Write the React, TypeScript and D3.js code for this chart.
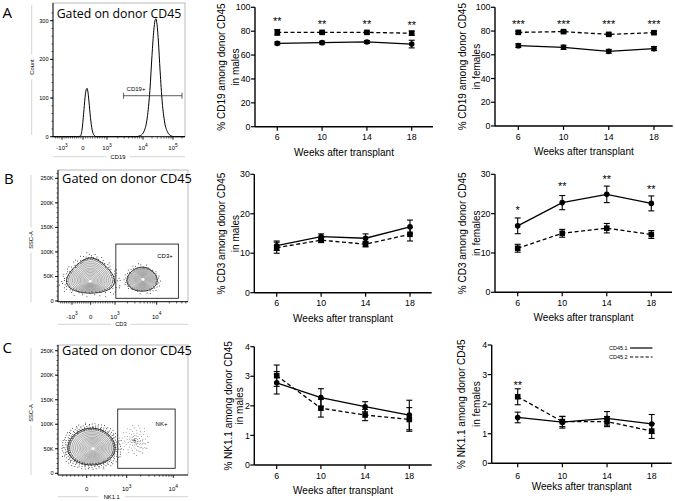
import React from "react";
import * as d3 from "d3";

// ---------- line-panel data ----------
const weeks = [6, 10, 14, 18];

const cd19MalesCD451 = [69.8, 70.4, 71.0, 69.2];
const cd19MalesCD451Err = [1.2, 1.2, 1.2, 3.2];
const cd19MalesCD452 = [79.0, 79.0, 79.0, 78.3];
const cd19MalesCD452Err = [2.4, 1.0, 1.0, 1.8];
const cd19MalesStars = ["**", "**", "**", "**"];
const cd19MalesStarPos = [90.2, 87.4, 87.4, 86.6];

const cd19FemalesCD451 = [67.7, 66.3, 62.9, 65.2];
const cd19FemalesCD451Err = [1.6, 1.8, 1.6, 1.7];
const cd19FemalesCD452 = [78.9, 79.5, 77.2, 78.6];
const cd19FemalesCD452Err = [1.0, 1.0, 1.0, 1.0];
const cd19FemalesStars = ["***", "***", "***", "***"];
const cd19FemalesStarPos = [87.4, 87.4, 87.4, 87.4];

const cd3MalesCD451 = [11.9, 14.2, 13.8, 16.7];
const cd3MalesCD451Err = [1.2, 0.7, 1.1, 1.7];
const cd3MalesCD452 = [11.4, 13.3, 12.3, 14.8];
const cd3MalesCD452Err = [1.4, 0.6, 0.7, 1.7];

const cd3FemalesCD451 = [16.9, 22.8, 24.9, 22.6];
const cd3FemalesCD451Err = [2.0, 1.8, 2.1, 1.9];
const cd3FemalesCD452 = [11.2, 15.0, 16.3, 14.7];
const cd3FemalesCD452Err = [1.0, 1.0, 1.2, 1.0];
const cd3FemalesStars = ["*", "**", "**", "**"];
const cd3FemalesStarPos = [21.4, 27.5, 29.2, 26.7];

const nkMalesCD451 = [2.78, 2.28, 1.97, 1.69];
const nkMalesCD451Err = [0.38, 0.3, 0.17, 0.5];
const nkMalesCD452 = [3.02, 1.92, 1.69, 1.54];
const nkMalesCD452Err = [0.36, 0.3, 0.19, 0.4];

const nkFemalesCD451 = [1.55, 1.39, 1.52, 1.33];
const nkFemalesCD451Err = [0.18, 0.2, 0.23, 0.32];
const nkFemalesCD452 = [2.25, 1.41, 1.41, 1.09];
const nkFemalesCD452Err = [0.27, 0.17, 0.17, 0.25];
const nkFemalesStars = ["**", "", "", ""];
const nkFemalesStarPos = [2.73, 0, 0, 0];

const cd19Ticks = [0, 20, 40, 60, 80, 100];
const cd3Ticks = [0, 10, 20, 30];
const nkTicks = [0, 1, 2, 3, 4];
const legendLabels = ["CD45.1", "CD45.2"];

// ---------- flow data ----------
// histogram (display decade units, count)
const histT = [-1.43, -0.25, -0.12, -0.04, 0.04, 0.1, 0.14, 0.17, 0.2, 0.25, 0.31, 0.38, 0.46, 0.56, 1.8, 1.93, 2.04, 2.14, 2.23, 2.3, 2.36, 2.4, 2.43, 2.46, 2.51, 2.57, 2.64, 2.72, 2.82, 2.94, 3.05, 3.4];
const histCount = [0, 0, 2, 20, 70, 110, 123, 125, 118, 90, 50, 18, 4, 0, 0, 3, 15, 48, 120, 210, 275, 300, 305, 295, 250, 170, 90, 38, 12, 2, 0, 0];
const histYTicks = [0, 100, 200, 300];
const histXTicks = [-1, 0, 1, 2, 3];
const histXLabels = [["-10", "3"], ["0", ""], ["10", "3"], ["10", "4"], ["10", "5"]];
const histGate = [1.46, 3.3, 106];

const sscTicks = [0, 50000, 100000, 150000, 200000, 250000];
const sscLabels = ["0", "50K", "100K", "150K", "200K", "250K"];
const cd3XTicks = [-1, 0, 1, 2];
const cd3XLabels = [["-10", "3"], ["0", ""], ["10", "3"], ["10", "4"]];
const nkXTicks = [0, 1, 2];
const nkXLabels = [["0", ""], ["10", "3"], ["10", "4"]];

// populations: [x0, x1, y0, y1, coreX, coreY, skew, dots]
const cd3Pops = [
  [-1.21, 0.92, 16000, 88000, -0.03, 40000, 0.4, 150],
  [1.29, 2.01, 20000, 69000, 1.67, 44000, 0.12, 80],
];
const cd3Gate = [1.02, 2.52, 5500, 116000];
const nkPops = [[-0.47, 0.71, 17000, 92000, 0.16, 50000, 0.08, 360]];
const nkCloud = [0.8, 1.5, 35000, 100000, 110];
const nkGate = [0.775, 2.04, 10200, 131000];
const contourLevels = [1, 0.92, 0.84, 0.77, 0.7, 0.63, 0.56, 0.5, 0.44, 0.38, 0.32, 0.26, 0.2, 0.14, 0.08];

const FONT = "'Liberation Sans', Arial, Helvetica, sans-serif";

type Geo = { ax: number; x6: number; x18: number; axEnd: number; y0: number; yTop: number; l1x: number; l2x: number; tickDy: number; titleDy: number };

function LinePanel(props: {
  g: Geo; s1: number[]; e1: number[]; s2: number[]; e2: number[]; yMax: number; yTicks: number[];
  stars?: string[]; starPos?: number[]; label1: string; label2: string; legend?: boolean;
}) {
  const { g, s1, e1, s2, e2, yMax, yTicks, stars, starPos, label1, label2, legend } = props;
  const x = d3.scaleLinear().domain([6, 18]).range([g.x6, g.x18]);
  const y = d3.scaleLinear().domain([0, yMax]).range([g.y0, g.yTop]);
  const line = d3.line<number>().x((_, i) => x(weeks[i])).y((d) => y(d));
  const midY = (g.y0 + g.yTop) / 2;
  const sw = 1.3;
  const errBars = (vals: number[], errs: number[], k: string) =>
    vals.map((v, i) => {
      const cx = x(weeks[i]);
      const t = y(v + errs[i]);
      const b = y(v - errs[i]);
      return (
        <g key={k + i} stroke="#000" strokeWidth={1.1}>
          <line x1={cx} x2={cx} y1={t} y2={b} />
          <line x1={cx - 3} x2={cx + 3} y1={t} y2={t} />
          <line x1={cx - 3} x2={cx + 3} y1={b} y2={b} />
        </g>
      );
    });
  return (
    <g fontFamily={FONT}>
      <line x1={g.ax} x2={g.ax} y1={g.y0} y2={g.yTop} stroke="#000" strokeWidth={1.4} />
      <line x1={g.ax} x2={g.axEnd} y1={g.y0} y2={g.y0} stroke="#000" strokeWidth={1.4} />
      {yTicks.map((v) => (
        <g key={"yt" + v}>
          <line x1={g.ax - 4} x2={g.ax} y1={y(v)} y2={y(v)} stroke="#000" strokeWidth={1.2} />
          <text x={g.ax - 4.5} y={y(v)} dy="0.35em" textAnchor="end" fontSize={8.8}>{v}</text>
        </g>
      ))}
      {weeks.map((w) => (
        <g key={"xt" + w}>
          <line x1={x(w)} x2={x(w)} y1={g.y0} y2={g.y0 + 4} stroke="#000" strokeWidth={1.2} />
          <text x={x(w)} y={g.y0 + g.tickDy} textAnchor="middle" fontSize={8.8}>{w}</text>
        </g>
      ))}
      <text x={(g.ax + g.axEnd) / 2} y={g.y0 + g.titleDy} textAnchor="middle" fontSize={10}>Weeks after transplant</text>
      <text x={g.l1x} y={midY} dy="0.35em" textAnchor="middle" fontSize={10} transform={`rotate(-90 ${g.l1x} ${midY})`}>{label1}</text>
      <text x={g.l2x} y={midY} dy="0.35em" textAnchor="middle" fontSize={10} transform={`rotate(-90 ${g.l2x} ${midY})`}>{label2}</text>
      <path d={line(s2) || ""} fill="none" stroke="#000" strokeWidth={sw} strokeDasharray="4,2.6" />
      <path d={line(s1) || ""} fill="none" stroke="#000" strokeWidth={sw} />
      {errBars(s2, e2, "e2")}
      {errBars(s1, e1, "e1")}
      {s2.map((v, i) => (
        <rect key={"m2" + i} x={x(weeks[i]) - 2.8} y={y(v) - 2.8} width={5.6} height={5.6} fill="#000" />
      ))}
      {s1.map((v, i) => (
        <circle key={"m1" + i} cx={x(weeks[i])} cy={y(v)} r={2.8} fill="#000" />
      ))}
      {stars && starPos && stars.map((s, i) => s ? (
        <text key={"st" + i} x={x(weeks[i])} y={y(starPos[i]) + 6} textAnchor="middle" fontSize={11}>{s}</text>
      ) : null)}
      {legend && (
        <g fontSize={5.5}>
          <text x={609} y={348} dy="0.35em">{legendLabels[0]}</text>
          <line x1={630} x2={652.5} y1={348} y2={348} stroke="#000" strokeWidth={1.2} />
          <text x={609} y={357} dy="0.35em">{legendLabels[1]}</text>
          <line x1={630} x2={652.5} y1={357} y2={357} stroke="#000" strokeWidth={1.2} strokeDasharray="3.2,2" />
        </g>
      )}
    </g>
  );
}

function TickLabel({ x, y, lab }: { x: number; y: number; lab: string[] }) {
  return (
    <text x={x} y={y} textAnchor="middle" fontSize={6}>
      {lab[0]}
      {lab[1] ? <tspan dy={-3.2} fontSize={4.8}>{lab[1]}</tspan> : null}
    </text>
  );
}

function FlowFrame(props: {
  left: number; right: number; top: number; bottom: number;
  ys: d3.ScaleLinear<number, number>; yTicks: number[]; yLabels: string[]; yMinorStep: number;
  xs: d3.ScaleLinear<number, number>; xTicks: number[]; xLabels: string[][]; xLabelY: number;
  yTitle: string; yTitleX: number; yTitleY: number; yLineTop: number; yLineBottom: number;
  xTitle: string; xTitleX: number; xTitleY: number;
  title: string; titleX: number; titleY: number; titleSize: number;
}) {
  const p = props;
  const minorY: number[] = [];
  const yMax = p.ys.domain()[1] * 1.08;
  for (let v = 0; v <= yMax; v += p.yMinorStep) minorY.push(v);
  const tMin = p.xs.invert(p.left);
  const tMax = p.xs.invert(p.right);
  const minorX: number[] = [];
  for (let d = Math.floor(tMin); d < Math.ceil(tMax); d++) {
    if (d >= 1) {
      for (let k = 2; k <= 9; k++) minorX.push(d + Math.log10(k));
    } else {
      for (let k = 1; k <= 9; k++) minorX.push(d + k / 10);
    }
  }
  const mx = minorX.filter((t) => p.xs(t) > p.left + 1 && p.xs(t) < p.right - 1);
  const ytGap = p.yTitle.length * 1.9 + 3;
  const xtGap = p.xTitle.length * 1.9 + 4;
  return (
    <g fontFamily={FONT}>
      <rect x={p.left} y={p.top} width={p.right - p.left} height={p.bottom - p.top} fill="none" stroke="#a8a8a8" strokeWidth={0.8} />
      <line x1={p.left} x2={p.left} y1={p.top} y2={p.bottom} stroke="#000" strokeWidth={0.9} />
      <line x1={p.left} x2={p.right} y1={p.bottom} y2={p.bottom} stroke="#000" strokeWidth={0.9} />
      {minorY.filter((v) => p.ys(v) > p.top).map((v) => (
        <line key={"my" + v} x1={p.left - 1.5} x2={p.left} y1={p.ys(v)} y2={p.ys(v)} stroke="#000" strokeWidth={0.6} />
      ))}
      {p.yTicks.map((v, i) => (
        <g key={"yt" + v}>
          <line x1={p.left - 3} x2={p.left} y1={p.ys(v)} y2={p.ys(v)} stroke="#000" strokeWidth={0.9} />
          <text x={p.left - 4.5} y={p.ys(v)} dy="0.35em" textAnchor="end" fontSize={5.6}>{p.yLabels[i]}</text>
        </g>
      ))}
      {mx.map((t, i) => (
        <line key={"mx" + i} x1={p.xs(t)} x2={p.xs(t)} y1={p.bottom} y2={p.bottom + 1.8} stroke="#000" strokeWidth={0.6} />
      ))}
      {p.xTicks.map((t, i) => (
        <g key={"xt" + t}>
          <line x1={p.xs(t)} x2={p.xs(t)} y1={p.bottom} y2={p.bottom + 3} stroke="#000" strokeWidth={0.9} />
          <TickLabel x={p.xs(t)} y={p.xLabelY} lab={p.xLabels[i]} />
        </g>
      ))}
      <line x1={p.yTitleX} x2={p.yTitleX} y1={p.yLineTop} y2={p.yTitleY - ytGap} stroke="#c8c8c8" strokeWidth={0.8} />
      <line x1={p.yTitleX} x2={p.yTitleX} y1={p.yTitleY + ytGap} y2={p.yLineBottom} stroke="#c8c8c8" strokeWidth={0.8} />
      <text x={p.yTitleX} y={p.yTitleY} dy="0.35em" textAnchor="middle" fontSize={5.8} transform={`rotate(-90 ${p.yTitleX} ${p.yTitleY})`}>{p.yTitle}</text>
      <line x1={p.left} x2={p.xTitleX - xtGap} y1={p.xTitleY} y2={p.xTitleY} stroke="#c8c8c8" strokeWidth={0.8} />
      <line x1={p.xTitleX + xtGap} x2={p.right} y1={p.xTitleY} y2={p.xTitleY} stroke="#c8c8c8" strokeWidth={0.8} />
      <text x={p.xTitleX} y={p.xTitleY} dy="0.35em" textAnchor="middle" fontSize={5.8}>{p.xTitle}</text>
      <text x={p.titleX} y={p.titleY} textAnchor="middle" fontSize={p.titleSize} fontFamily="'Open Sans', 'Noto Sans', sans-serif">{p.title}</text>
    </g>
  );
}

function blob(cx: number, cy: number, hw: number, hh: number, skew: number) {
  const pts: [number, number][] = [];
  const n = 48;
  for (let i = 0; i < n; i++) {
    const a = (i / n) * Math.PI * 2;
    const dx = Math.cos(a);
    const dy = Math.sin(a);
    pts.push([cx + hw * dx * (1 + skew * dy), cy + hh * dy]);
  }
  return d3.line().curve(d3.curveCardinalClosed)(pts) || "";
}

function Population({ pop, xs, ys, ringDots }: { pop: number[]; xs: any; ys: any; ringDots: number }) {
  const [x0, x1, y0, y1, coreX, coreY, skew] = pop;
  const ocx = (xs(x0) + xs(x1)) / 2;
  const ocy = (ys(y0) + ys(y1)) / 2;
  const hw = Math.abs(xs(x1) - xs(x0)) / 2;
  const hh = Math.abs(ys(y1) - ys(y0)) / 2;
  const kx = xs(coreX);
  const ky = ys(coreY);
  const dots: [number, number][] = [];
  for (let i = 0; i < ringDots; i++) {
    const a = i * 2.39996;
    const f = (i * 0.7548776) % 1;
    const r = 0.92 + 0.4 * f * f;
    const dx = Math.cos(a);
    const dy = Math.sin(a);
    dots.push([ocx + hw * r * dx * (1 + skew * dy), ocy + hh * r * dy]);
  }
  return (
    <g>
      {dots.map((d, i) => <circle key={"d" + i} cx={d[0]} cy={d[1]} r={0.5} fill="#222" />)}
      {contourLevels.map((l, i) => {
        const cx = kx + (ocx - kx) * l;
        const cy = ky + (ocy - ky) * l;
        return (
          <path key={"c" + i} d={blob(cx, cy, hw * l, hh * l, skew * l)} fill={i === 0 ? "rgba(190,190,190,0.25)" : "none"}
            stroke={i === 0 ? "#222" : "#6a6a6a"} strokeWidth={i === 0 ? 0.9 : 0.5} />
        );
      })}
      <ellipse cx={kx} cy={ky} rx={Math.max(1.6, hw * 0.07)} ry={Math.max(1.3, hh * 0.08)} fill="#fff" />
    </g>
  );
}

function HistPanel() {
  const left = 53, right = 185, top = 3, bottom = 136.7;
  const xs = d3.scaleLinear().domain([-1, 0, 1, 2, 3]).range([62, 83, 107, 143, 173]);
  const ys = d3.scaleLinear().domain([0, 300]).range([bottom, 20.7]);
  const area = d3.line<number>().x((_, i) => xs(histT[i])).y((d) => ys(d)).curve(d3.curveMonotoneX);
  const gy = ys(histGate[2]);
  return (
    <g>
      <FlowFrame left={left} right={right} top={top} bottom={bottom} ys={ys} yTicks={histYTicks}
        yLabels={histYTicks.map(String)} yMinorStep={20} xs={xs} xTicks={histXTicks} xLabels={histXLabels}
        xLabelY={150} yTitle="Count" yTitleX={31.7} yTitleY={67} yLineTop={5} yLineBottom={135}
        xTitle="CD19" xTitleX={118} xTitleY={156.7} title="Gated on donor CD45" titleX={119} titleY={17.5} titleSize={12.3} />
      <path d={area(histCount) || ""} fill="none" stroke="#000" strokeWidth={1} />
      <g stroke="#333" strokeWidth={0.8}>
        <line x1={xs(histGate[0])} x2={xs(histGate[1])} y1={gy} y2={gy} />
        <line x1={xs(histGate[0])} x2={xs(histGate[0])} y1={gy - 3} y2={gy + 3} />
        <line x1={xs(histGate[1])} x2={xs(histGate[1])} y1={gy - 3} y2={gy + 3} />
      </g>
      <text x={136} y={90.5} textAnchor="middle" fontSize={6} fontFamily={FONT}>CD19+</text>
    </g>
  );
}

function CD3Flow() {
  const left = 58, right = 188, top = 170, bottom = 301.7;
  const xs = d3.scaleLinear().domain([-1, 0, 1, 2]).range([72, 90.7, 115, 156.7]);
  const ys = d3.scaleLinear().domain([0, 250000]).range([301, 178.3]);
  return (
    <g>
      <FlowFrame left={left} right={right} top={top} bottom={bottom} ys={ys} yTicks={sscTicks}
        yLabels={sscLabels} yMinorStep={10000} xs={xs} xTicks={cd3XTicks} xLabels={cd3XLabels}
        xLabelY={318.5} yTitle="SSC-A" yTitleX={31} yTitleY={240} yLineTop={175} yLineBottom={302}
        xTitle="CD3" xTitleX={121} xTitleY={324.3} title="Gated on donor CD45" titleX={127} titleY={182.5} titleSize={12.8} />
      {cd3Pops.map((p, i) => <Population key={i} pop={p} xs={xs} ys={ys} ringDots={p[7]} />)}
      <rect x={xs(cd3Gate[0])} y={ys(cd3Gate[3])} width={xs(cd3Gate[1]) - xs(cd3Gate[0])} height={ys(cd3Gate[2]) - ys(cd3Gate[3])}
        fill="none" stroke="#222" strokeWidth={0.9} />
      <text x={165} y={257.7} textAnchor="middle" fontSize={6} fontFamily={FONT}>CD3+</text>
    </g>
  );
}

function NKFlow() {
  const left = 58, right = 188, top = 345, bottom = 475;
  const xs = d3.scaleLinear().domain([0, 1, 2]).range([86.7, 126.7, 173.3]);
  const ys = d3.scaleLinear().domain([0, 250000]).range([473.3, 350.7]);
  const [cx0, cx1, cy0, cy1, n] = nkCloud;
  const ccx = (xs(cx0) + xs(cx1)) / 2;
  const ccy = (ys(cy0) + ys(cy1)) / 2;
  const chw = (xs(cx1) - xs(cx0)) / 2;
  const chh = (ys(cy0) - ys(cy1)) / 2;
  const cloud: [number, number][] = [];
  for (let i = 0; i < n; i++) {
    const a = i * 2.39996 + ((i * 0.381966) % 1) * 1.3;
    const r = ((i * 0.7548776) % 1);
    cloud.push([ccx + chw * r * Math.cos(a), ccy + chh * r * Math.sin(a)]);
  }
  return (
    <g>
      <FlowFrame left={left} right={right} top={top} bottom={bottom} ys={ys} yTicks={sscTicks}
        yLabels={sscLabels} yMinorStep={10000} xs={xs} xTicks={nkXTicks} xLabels={nkXLabels}
        xLabelY={491} yTitle="SSC-A" yTitleX={31} yTitleY={413} yLineTop={348} yLineBottom={475}
        xTitle="NK1.1" xTitleX={111.7} xTitleY={496.7} title="Gated on donor CD45" titleX={127} titleY={354.5} titleSize={12.8} />
      {cloud.map((d, i) => <circle key={"n" + i} cx={d[0]} cy={d[1]} r={0.45} fill="#444" />)}
      {nkPops.map((p, i) => <Population key={i} pop={p} xs={xs} ys={ys} ringDots={p[7]} />)}
      <rect x={xs(nkGate[0])} y={ys(nkGate[3])} width={xs(nkGate[1]) - xs(nkGate[0])} height={ys(nkGate[2]) - ys(nkGate[3])}
        fill="none" stroke="#222" strokeWidth={0.9} />
      <text x={161.5} y={425.5} textAnchor="middle" fontSize={6} fontFamily={FONT}>NK+</text>
    </g>
  );
}

export default function App() {
  const gA1: Geo = { ax: 255, x6: 277.3, x18: 411.7, axEnd: 433, y0: 126.7, yTop: 7.3, l1x: 221, l2x: 235, tickDy: 13.5, titleDy: 28.8 };
  const gA2: Geo = { ax: 495, x6: 518.3, x18: 654, axEnd: 672.7, y0: 126, yTop: 7.3, l1x: 462.5, l2x: 477, tickDy: 13.5, titleDy: 28.8 };
  const gB1: Geo = { ax: 254.3, x6: 276.7, x18: 410, axEnd: 431.7, y0: 292.7, yTop: 174.3, l1x: 221, l2x: 235, tickDy: 13.5, titleDy: 28.8 };
  const gB2: Geo = { ax: 495, x6: 517.7, x18: 651.3, axEnd: 672, y0: 292.3, yTop: 174.3, l1x: 462.5, l2x: 477, tickDy: 13.5, titleDy: 28.8 };
  const gC1: Geo = { ax: 254.3, x6: 276.7, x18: 409.3, axEnd: 431.7, y0: 465, yTop: 346.7, l1x: 229, l2x: 240, tickDy: 14.3, titleDy: 28.5 };
  const gC2: Geo = { ax: 491.7, x6: 517.7, x18: 651.7, axEnd: 671.7, y0: 463.3, yTop: 345, l1x: 462, l2x: 476.5, tickDy: 16, titleDy: 27 };
  return (
    <svg width={675} height={501} style={{ display: "block", position: "absolute", left: 0, top: 0, background: "#fff" }}>
      <rect width={675} height={501} fill="#fff" />
      <g fontFamily="'Open Sans', 'Noto Sans', sans-serif" fontSize={15}>
        <text x={2.5} y={18.3}>A</text>
        <text x={4} y={184}>B</text>
        <text x={2.5} y={353.3}>C</text>
      </g>
      <HistPanel />
      <CD3Flow />
      <NKFlow />
      <LinePanel g={gA1} s1={cd19MalesCD451} e1={cd19MalesCD451Err} s2={cd19MalesCD452} e2={cd19MalesCD452Err}
        yMax={100} yTicks={cd19Ticks} stars={cd19MalesStars} starPos={cd19MalesStarPos}
        label1="% CD19 among donor CD45" label2="in males" />
      <LinePanel g={gA2} s1={cd19FemalesCD451} e1={cd19FemalesCD451Err} s2={cd19FemalesCD452} e2={cd19FemalesCD452Err}
        yMax={100} yTicks={cd19Ticks} stars={cd19FemalesStars} starPos={cd19FemalesStarPos}
        label1="% CD19 among donor CD45" label2="in females" />
      <LinePanel g={gB1} s1={cd3MalesCD451} e1={cd3MalesCD451Err} s2={cd3MalesCD452} e2={cd3MalesCD452Err}
        yMax={30} yTicks={cd3Ticks} label1="% CD3 among donor CD45" label2="in males" />
      <LinePanel g={gB2} s1={cd3FemalesCD451} e1={cd3FemalesCD451Err} s2={cd3FemalesCD452} e2={cd3FemalesCD452Err}
        yMax={30} yTicks={cd3Ticks} stars={cd3FemalesStars} starPos={cd3FemalesStarPos}
        label1="% CD3 among donor CD45" label2="in females" />
      <LinePanel g={gC1} s1={nkMalesCD451} e1={nkMalesCD451Err} s2={nkMalesCD452} e2={nkMalesCD452Err}
        yMax={4} yTicks={nkTicks} label1="% NK1.1 among donor CD45" label2="in males" />
      <LinePanel g={gC2} s1={nkFemalesCD451} e1={nkFemalesCD451Err} s2={nkFemalesCD452} e2={nkFemalesCD452Err}
        yMax={4} yTicks={nkTicks} stars={nkFemalesStars} starPos={nkFemalesStarPos}
        label1="% NK1.1 among donor CD45" label2="in females" legend />
    </svg>
  );
}
